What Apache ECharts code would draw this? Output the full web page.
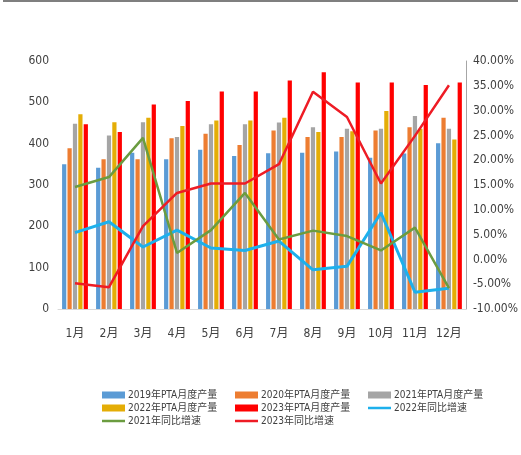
<!DOCTYPE html>
<html>
<head>
<meta charset="utf-8">
<script src="https://cdn.jsdelivr.net/npm/echarts@6/dist/echarts.min.js"></script>
<style>
  html, body { margin: 0; padding: 0; background: #ffffff; }
  #chart { width: 521px; height: 455px; }
</style>
</head>
<body>
<div id="chart"></div>
<script>
// Months on the category axis
const months = ['1月', '2月', '3月', '4月', '5月', '6月', '7月', '8月', '9月', '10月', '11月', '12月'];

// Monthly PTA output (万吨)
const output2019 = [350, 342, 378, 362, 385, 370, 377, 378, 381, 366, 376, 401];
const output2020 = [389, 362, 362, 413, 424, 397, 432, 416, 416, 432, 440, 463];
const output2021 = [448, 420, 452, 416, 447, 447, 451, 440, 436, 436, 467, 436];
const output2022 = [471, 452, 463, 443, 456, 456, 463, 428, 430, 479, 436, 410];
const output2023 = [447, 428, 495, 503, 526, 526, 553, 573, 548, 548, 542, 548];

// Year-on-year growth (%)
const yoy2022 = [5.4, 7.6, 2.5, 5.9, 2.3, 1.8, 3.7, -2.1, -1.4, 9.4, -6.6, -5.8];
const yoy2021 = [14.6, 16.6, 24.5, 1.3, 5.9, 13.4, 4.0, 5.8, 4.7, 1.8, 6.4, -5.8];
const yoy2023 = [-4.8, -5.6, 6.7, 13.4, 15.3, 15.3, 19.2, 33.8, 28.7, 15.3, 24.9, 35.1];

// Axis ranges
const leftAxisRange = { min: 0, max: 600, interval: 100 };
const rightAxisRange = { min: -10, max: 40, interval: 5 };

const names = {
  o19: '2019年PTA月度产量', o20: '2020年PTA月度产量', o21: '2021年PTA月度产量',
  o22: '2022年PTA月度产量', o23: '2023年PTA月度产量',
  y22: '2022年同比增速', y21: '2021年同比增速', y23: '2023年同比增速'
};

const colors = {
  o19: '#5B9BD5', o20: '#ED7D31', o21: '#A5A5A5', o22: '#E4AD06', o23: '#FF0000',
  y22: '#1DB0EC', y21: '#6B9C40', y23: '#EE1C25'
};

const labelFont = "'Liberation Sans Narrow', 'DejaVu Sans Condensed', 'Noto Sans CJK SC', sans-serif";
const lineIcon = 'path://M0,0H46V5H0Z';

function bar(key, data) {
  return {
    name: names[key], type: 'bar', yAxisIndex: 0, data: data,
    itemStyle: { color: colors[key] },
    barGap: '28%', barCategoryGap: '24%'
  };
}
function line(key, data, width) {
  return {
    name: names[key], type: 'line', yAxisIndex: 1, data: data,
    symbol: 'none', showSymbol: false, z: 5,
    lineStyle: { color: colors[key], width: width },
    itemStyle: { color: colors[key] }
  };
}
function legendCol(left, items) {
  return {
    orient: 'vertical', left: left, top: 385, itemGap: 3,
    itemWidth: 23, itemHeight: 7, symbolKeepAspect: true,
    textStyle: { fontFamily: labelFont, fontSize: 10, color: '#404040', padding: [0, 0, 0, -2] },
    data: items.map(k => ({
      name: names[k],
      icon: k.startsWith('y') ? lineIcon : 'rect'
    }))
  };
}

const chart = echarts.init(document.getElementById('chart'), null, { renderer: 'canvas' });
chart.setOption({
  animation: false,
  backgroundColor: '#ffffff',
  graphic: [{
    type: 'rect', shape: { x: 3, y: 0, width: 515, height: 2 },
    style: { fill: '#7f7f7f' }
  }],
  grid: { left: 58, right: 48, top: 61, bottom: 146 },
  legend: [
    legendCol(97, ['o19', 'o22', 'y21']),
    legendCol(230, ['o20', 'o23', 'y23']),
    legendCol(363, ['o21', 'y22'])
  ],
  xAxis: {
    type: 'category', data: months,
    axisLine: { lineStyle: { color: '#D9D9D9', width: 1 } },
    axisTick: { show: false },
    axisLabel: { color: '#404040', fontSize: 12, fontFamily: labelFont, margin: 19 }
  },
  yAxis: [{
    type: 'value', min: leftAxisRange.min, max: leftAxisRange.max, interval: leftAxisRange.interval,
    axisLine: { show: false }, axisTick: { show: false }, splitLine: { show: false },
    axisLabel: { color: '#404040', fontSize: 12, fontFamily: labelFont, margin: 9 }
  }, {
    type: 'value', min: rightAxisRange.min, max: rightAxisRange.max, interval: rightAxisRange.interval,
    position: 'right',
    axisLine: { show: true, lineStyle: { color: '#A6A6A6', width: 1 } },
    axisTick: { show: false }, splitLine: { show: false },
    axisLabel: {
      color: '#404040', fontSize: 12, fontFamily: labelFont, margin: 7,
      formatter: v => v.toFixed(2) + '%'
    }
  }],
  series: [
    bar('o19', output2019),
    bar('o20', output2020),
    bar('o21', output2021),
    bar('o22', output2022),
    bar('o23', output2023),
    line('y22', yoy2022, 3),
    line('y21', yoy2021, 2.5),
    line('y23', yoy2023, 2.5)
  ]
});
</script>
</body>
</html>
